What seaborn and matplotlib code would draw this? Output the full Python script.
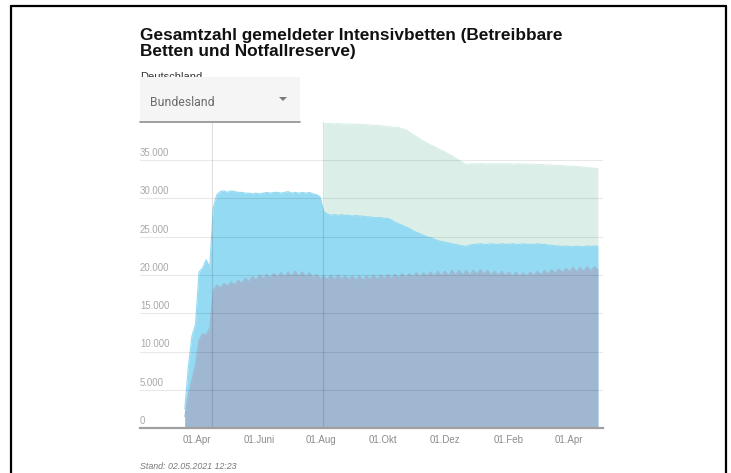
import numpy as np
import pandas as pd
import matplotlib
matplotlib.use("Agg")
import matplotlib.pyplot as plt
from matplotlib.lines import Line2D
from matplotlib.patches import Rectangle, Polygon
import seaborn as sns

# values every 3.5 days starting 20.03.2020
start_date = "2020-03-20"
step = "84h"

# belegte Betten
occupied = [
    1500, 4300, 6300, 8200, 11500, 12300, 12200, 13000, 18000, 18700,
    18300, 18900, 18500, 19100, 18700, 19300, 18900, 19600, 19100, 19800,
    19300, 20000, 19500, 20100, 19600, 20200, 19700, 20300, 19700, 20400,
    19800, 20500, 19800, 20400, 19700, 20300, 19600, 20100, 19500, 19900,
    19400, 20000, 19400, 20000, 19400, 19900, 19400, 19900, 19300, 19900,
    19300, 19900, 19400, 20000, 19400, 20000, 19500, 20100, 19500, 20100,
    19600, 20200, 19600, 20200, 19700, 20300, 19700, 20300, 19800, 20400,
    19800, 20500, 19900, 20500, 19900, 20600, 20000, 20600, 20000, 20600,
    20000, 20600, 20100, 20700, 20100, 20600, 20000, 20500, 19900, 20500,
    19900, 20400, 19800, 20400, 19800, 20300, 19800, 20400, 19900, 20500,
    20000, 20600, 20100, 20700, 20200, 20800, 20300, 20900, 20400, 21000,
    20400, 21000, 20500, 21100, 20500, 21100, 20700,
]

# betreibbare Betten (belegt + frei)
operable = [
    2500, 8000, 12000, 13500, 20400, 20900, 22000, 21000, 28800, 30500,
    30900, 31000, 30800, 31000, 30900, 30800, 30800, 30700, 30700, 30600,
    30700, 30600, 30700, 30800, 30700, 30800, 30800, 30700, 30800, 30900,
    30700, 30800, 30700, 30800, 30700, 30800, 30600, 30500, 30200, 28300,
    28000, 27800, 27900, 27800, 27900, 27800, 27800, 27700, 27800, 27700,
    27700, 27600, 27600, 27500, 27500, 27500, 27400, 27400, 27200, 26900,
    26700, 26500, 26300, 26100, 25800, 25600, 25400, 25200, 25000, 24900,
    24700, 24500, 24400, 24300, 24200, 24100, 24000, 23900, 23800, 23750,
    23900, 24000, 24000, 24100, 24000, 24000, 24100, 24000, 24000, 24100,
    24000, 24000, 24100, 24000, 24000, 24100, 24000, 24000, 24000, 24100,
    24000, 24000, 23900, 23900, 23800, 23800, 23700, 23800, 23700, 23700,
    23800, 23700, 23700, 23800, 23700, 23800, 23750,
]

# betreibbar + Notfallreserve, gemeldet ab August 2020 (ab Index 39)
reserve_start = 39
with_reserve = [
    39750, 39800, 39800, 39750, 39800, 39750, 39750, 39700, 39750, 39700,
    39700, 39650, 39650, 39600, 39550, 39550, 39500, 39450, 39400, 39350,
    39300, 39300, 39100, 39000, 38700, 38400, 38100, 37800, 37500, 37250,
    37000, 36800, 36550, 36300, 36100, 35800, 35600, 35300, 35000, 34700,
    34450, 34500, 34550, 34500, 34550, 34550, 34500, 34550, 34550, 34500,
    34550, 34500, 34550, 34500, 34500, 34550, 34500, 34500, 34450, 34500,
    34450, 34450, 34400, 34400, 34350, 34350, 34300, 34300, 34250, 34250,
    34200, 34200, 34150, 34100, 34050, 34000, 33950, 33900,
]

event_dates = ["2020-04-16", "2020-08-03"]

tick_dates = ["2020-04-01", "2020-06-01", "2020-08-01", "2020-10-01",
              "2020-12-01", "2021-02-01", "2021-04-01"]
tick_labels = ["01.Apr", "01.Juni", "01.Aug", "01.Okt", "01.Dez", "01.Feb", "01.Apr"]

y_ticks = [0, 5000, 10000, 15000, 20000, 25000, 30000, 35000]
y_labels = ["0", "5.000", "10.000", "15.000", "20.000", "25.000", "30.000", "35.000"]

title = "Gesamtzahl gemeldeter Intensivbetten (Betreibbare\nBetten und Notfallreserve)"
region = "Deutschland"
dropdown = "Bundesland"
stand = "Stand: 02.05.2021 12:23"


def main():
    sns.set_style("white")
    plt.rcParams['font.family'] = ['Liberation Sans', 'DejaVu Sans']

    dates = pd.date_range(start_date, periods=len(operable), freq=step)
    df = pd.DataFrame({"date": dates, "occupied": occupied, "operable": operable})
    dres = pd.DataFrame({"date": dates[reserve_start:], "total": with_reserve})

    W, H = 731, 473
    fig = plt.figure(figsize=(W / 100, H / 100), dpi=100)
    fig.patch.set_facecolor("white")
    ax = fig.add_axes([140 / W, 45 / H, 463 / W, 306 / H])

    c_res = "#dbefe8"
    c_op = "#94daf2"
    c_occ = "#9fb7d1"

    ax.fill_between(dres["date"], 0, dres["total"], color=c_res, lw=0, zorder=1)
    sns.lineplot(data=dres, x="date", y="total", color=c_res, lw=0.8, ax=ax, zorder=1)
    ax.fill_between(df["date"], 0, df["operable"], color=c_op, lw=0, zorder=2)
    sns.lineplot(data=df, x="date", y="operable", color=c_op, lw=0.8, ax=ax, zorder=2)
    ax.fill_between(df["date"], 0, df["occupied"], color=c_occ, lw=0, zorder=3)
    sns.lineplot(data=df, x="date", y="occupied", color=c_occ, lw=0.8, ax=ax, zorder=3)

    ax.set_xlim(pd.Timestamp("2020-02-05"), pd.Timestamp("2021-05-05"))
    ax.set_ylim(0, 40000)

    # grid lines over the areas
    for v in y_ticks[1:]:
        ax.axhline(v, color=(0, 0, 0, 0.09), lw=0.8, zorder=4)
    for d in event_dates:
        ax.axvline(pd.Timestamp(d), color=(0, 0, 0, 0.12), lw=0.8, zorder=4)

    ax.set_yticks([])
    for v, lab in zip(y_ticks, y_labels):
        ax.annotate(lab, xy=(0, v), xycoords=("axes fraction", "data"),
                    xytext=(0, 1.5), textcoords="offset points",
                    ha="left", va="bottom", fontsize=6.9, color="#a8a8a8", zorder=6)

    ax.set_xticks([pd.Timestamp(d) for d in tick_dates])
    ax.set_xticklabels(tick_labels)
    ax.tick_params(axis="x", length=0, pad=5, labelsize=7, labelcolor="#8c8c8c")
    ax.set_xlabel("")
    ax.set_ylabel("")

    for s in ["top", "left", "right"]:
        ax.spines[s].set_visible(False)
    ax.spines["bottom"].set_color("#a0a0a0")
    ax.spines["bottom"].set_linewidth(1.6)
    ax.spines["bottom"].set_zorder(5)

    # texts above the chart
    fig.text(140 / W, 1 - 56 / H, title, fontsize=12.4, fontweight="bold",
             color="#111111", ha="left", va="baseline", linespacing=1.1)
    fig.text(140 / W, 1 - 80 / H, region, fontsize=8, color="#333333",
             ha="left", va="baseline", zorder=1)

    # dropdown box
    box = Rectangle((140 / W, 1 - 122 / H), 160 / W, 45 / H,
                    transform=fig.transFigure, facecolor="#f5f5f5",
                    edgecolor="none", zorder=5)
    fig.add_artist(box)
    fig.add_artist(Line2D([140 / W, 300 / W], [1 - 122 / H, 1 - 122 / H],
                          color="#8f8f8f", lw=1.2, zorder=6))
    fig.text(150 / W, 1 - 102 / H, dropdown, fontsize=8.8, color="#6b6b6b",
             family=["Roboto", "DejaVu Sans"], ha="left", va="center", zorder=7)
    tri = Polygon([(279 / W, 1 - 97 / H), (287 / W, 1 - 97 / H), (283 / W, 1 - 101 / H)],
                  closed=True, transform=fig.transFigure, facecolor="#7a7a7a",
                  edgecolor="none", zorder=7)
    fig.add_artist(tri)

    fig.text(140 / W, 1 - 466 / H, stand, fontsize=6.4, style="italic",
             color="#777777", ha="left", va="center")

    # screenshot frame
    fig.add_artist(Line2D([11 / W, 11 / W], [0, 1 - 6 / H], color="black", lw=1.6))
    fig.add_artist(Line2D([11 / W, 726 / W], [1 - 6 / H, 1 - 6 / H], color="black", lw=1.6))
    fig.add_artist(Line2D([725.5 / W, 725.5 / W], [0, 1 - 6 / H], color="black", lw=1.6))

    fig.savefig("out.png", dpi=100)


if __name__ == "__main__":
    main()
